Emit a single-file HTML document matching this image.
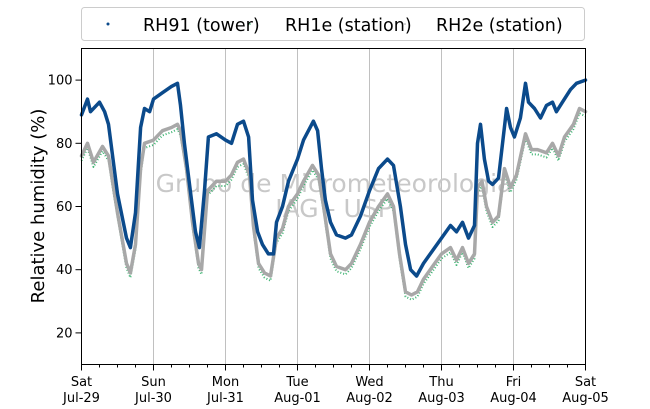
<!DOCTYPE html>
<html><head><meta charset="utf-8"><style>
body{margin:0;background:#fff;}
svg{display:block;font-family:"DejaVu Sans","Liberation Sans",sans-serif;}
</style></head><body>
<svg id="chart" width="650" height="409" viewBox="0 0 650 409">
<g id="grid"></g>
<text x="334" y="192" font-size="25" fill="#c8c8c8" text-anchor="middle">Grupo de Micrometeorologia</text>
<text x="334" y="217" font-size="25" fill="#c8c8c8" text-anchor="middle">IAG - USP</text>
<g id="series"></g>
<rect x="81.5" y="48.5" width="504" height="316" fill="none" stroke="#000" stroke-width="1"/>
<g id="axes"></g>
<text transform="translate(44,206) rotate(-90)" font-size="18" text-anchor="middle" fill="#000">Relative humidity (%)</text>
<g>
<rect x="81.5" y="7.5" width="503" height="33" rx="3" fill="#fff" stroke="#ccc"/>
<circle cx="108" cy="24" r="1.5" fill="#0b4a8b"/>
<text x="143" y="31" font-size="17.5" fill="#000">RH91 (tower)</text>
<circle cx="250" cy="24" r="0.8" fill="#3cb371"/>
<text x="285" y="31" font-size="17.5" fill="#000">RH1e (station)</text>
<circle cx="405" cy="24" r="0.8" fill="#a0a0a0"/>
<text x="436" y="31" font-size="17.5" fill="#000">RH2e (station)</text>
</g>
</svg>
<script>
const dayLabels1 = ["Sat","Sun","Mon","Tue","Wed","Thu","Fri","Sat"];
const dayLabels2 = ["Jul-29","Jul-30","Jul-31","Aug-01","Aug-02","Aug-03","Aug-04","Aug-05"];
const yTicks = [20,40,60,80,100];
const blueHours = [0,2,3,6,7.7,9,12,15,16.3,18,19.7,21,22.7,24,27,30,32,33,34.3,36,38,39.3,41,42.3,45,48,50,52,54,55.7,57,58.7,60.3,62.3,64,65,67,69,72,74,77.3,78.7,80,81.3,83,85,88,90,93,96,99,102,104,106.3,108,109.7,111.7,114,117,120,123,125,127,129,131,132,133,134.3,135.7,137,139,141.7,143,144.3,146.3,148,149,151,153,155,157,158.3,160.3,163,165,168];
const blueValues = [89,94,90,93,90,86,64,50,47,58,85,91,90,94,96,98,99,92,80,67,52,47,65,82,83,81,80,86,87,82,62,52,48,45,45,55,60,68,75,81,87,84,72,62,55,51,50,51,57,65,72,75,73,60,48,40,38,42,46,50,54,52,55,50,54,80,86,75,68,67,69,91,85,82,88,99,93,91,88,92,93,90,93,97,99,100];
const grayHours = [0,2,4,7,9,12,15,16.3,18,19.7,21,24,27,30,32,33,35,37,39,40,42,45,48,50,52,54,56,57.3,59,61,63,65,67,69,72,74,77,79,80.7,83,85,88,90,93,96,99,102,104,106,108,110,112,114,117,120,123,125,127,129,131,132,133.5,135,137,139,141,143,145,148,150,152,155,157,159,161,164,166,168];
const grayValues = [76,80,74,79,76,58,42,39,48,72,80,81,84,85,86,84,72,55,42,40,65,68,68,70,74,75,70,54,42,39,38,50,53,60,64,68,73,70,60,45,41,40,42,48,55,60,64,60,45,33,32,33,37,41,45,47,43,47,42,45,66,68,60,55,57,72,66,70,83,78,78,77,80,76,82,86,91,90];
const greenOffset = [-1.5];

const NS="http://www.w3.org/2000/svg";
const X0=81.5, X1=585.5, Y0=364.5, Y1=48.5;
const xScale=h=>X0+(X1-X0)*h/168;
const yScale=v=>Y0-(Y0-Y1)*(v-10)/100;
function mk(tag,attrs,parent){const e=document.createElementNS(NS,tag);for(const k in attrs)e.setAttribute(k,attrs[k]);parent.appendChild(e);return e;}
const grid=document.getElementById('grid'), axes=document.getElementById('axes'), series=document.getElementById('series');
for(let d=1;d<7;d++){
  const g=mk('line',{x1:xScale(d*24),x2:xScale(d*24),y1:Y1,y2:Y0,stroke:'#c0c0c0','stroke-width':1},grid);
  
  
}
for(let q=0;q<=28;q++){
  const major=q%4===0;
  const t=mk('line',{x1:xScale(q*6),x2:xScale(q*6),y1:Y0,y2:Y0+(major?6:3),stroke:'#000','stroke-width':1},axes);
  
  
}
dayLabels1.forEach((l,i)=>{
  const t1=mk('text',{x:xScale(i*24),y:386,'font-size':13,'text-anchor':'middle'},axes);t1.textContent=l;
  
  
  const t2=mk('text',{x:xScale(i*24),y:402,'font-size':13,'text-anchor':'middle'},axes);t2.textContent=dayLabels2[i];
  
  
});
yTicks.forEach(v=>{
  const y=yScale(v);
  const t=mk('line',{x1:X0-6,x2:X0,y1:y,y2:y,stroke:'#000'},axes);
  
  
  const l=mk('text',{x:X0-9,y:y+4.5,'font-size':13,'text-anchor':'end'},axes);l.textContent=v;
  
  
});
function pts(hs,vs,off){return hs.map((h,i)=>xScale(h).toFixed(1)+','+yScale(vs[i]+off).toFixed(1)).join(' ');}
const gr=mk('polyline',{points:pts(grayHours,grayValues,greenOffset[0]),fill:'none',stroke:'#3cb371','stroke-width':2,'stroke-dasharray':'1 2','stroke-linejoin':'round'},series);


const gy=mk('polyline',{points:pts(grayHours,grayValues,0),fill:'none',stroke:'#a8a8a8','stroke-width':3.5,'stroke-linejoin':'round','stroke-linecap':'round'},series);


const bl=mk('polyline',{points:pts(blueHours,blueValues,0),fill:'none',stroke:'#0b4a8b','stroke-width':3.5,'stroke-linejoin':'round','stroke-linecap':'round'},series);


</script>
</body></html>
